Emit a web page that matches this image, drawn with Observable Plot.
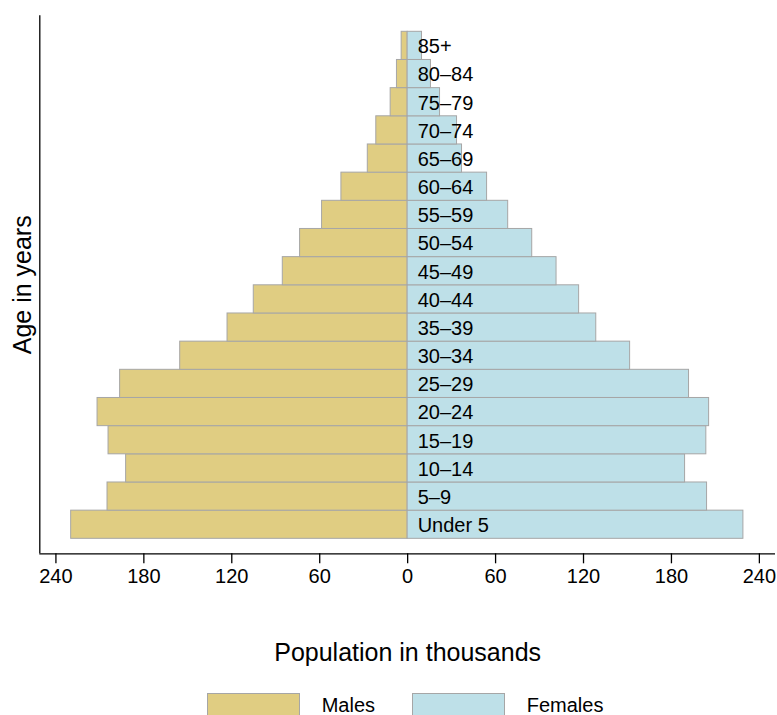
<!DOCTYPE html>
<html>
<head>
<meta charset="utf-8">
<script src="https://cdn.jsdelivr.net/npm/d3@7"></script>
<script src="https://cdn.jsdelivr.net/npm/@observablehq/plot@0.6"></script>
<style>
  html, body { margin: 0; padding: 0; background: white; }
  body { font-family: "Liberation Sans", Arial, sans-serif; }
  #chart { width: 777px; }
  #legend { position: relative; width: 777px; height: 22px; margin-top: 12.7px; font-size: 20px; color: black; }
  .swatch { position: absolute; top: 0; width: 93px; height: 27px; border: 1px solid #a6a6a6; box-sizing: border-box; }
  .lab { position: absolute; top: 2px; line-height: 20px; }
</style>
</head>
<body>
<div id="chart"></div>
<div id="legend"></div>
<script>
const ageGroups = ["Under 5", "5–9", "10–14", "15–19", "20–24", "25–29", "30–34", "35–39", "40–44",
  "45–49", "50–54", "55–59", "60–64", "65–69", "70–74", "75–79", "80–84", "85+"];
const males = [229.6, 204.8, 192.1, 204.1, 211.6, 196.2, 155.2, 122.9, 105.0,
  85.2, 73.4, 58.4, 45.2, 27.2, 21.4, 11.6, 7.3, 4.1];
const females = [229.1, 204.3, 189.3, 203.8, 205.7, 192.0, 151.8, 128.7, 117.0,
  101.6, 85.0, 68.6, 54.2, 37.1, 33.7, 22.1, 15.9, 9.8];
const xTicks = [-240, -180, -120, -60, 0, 60, 120, 180, 240];
const seriesNames = ["Males", "Females"];
const seriesColors = ["#e0cd82", "#bee0e8"];
const xTitle = "Population in thousands";
const yTitle = "Age in years";

const rows = ageGroups.map((g, i) => ({group: g, i, male: males[i], female: females[i]}));
const xMax = 251;
const yLo = -1.032, yHi = 18.068;

const plot = Plot.plot({
  width: 777,
  height: 680,
  marginLeft: 39.3,
  marginRight: 2,
  marginTop: 15.3,
  marginBottom: 126.7,
  style: {fontFamily: "'Liberation Sans', Arial, sans-serif", fontSize: "20px", background: "white", color: "black"},
  x: {domain: [-xMax, xMax]},
  y: {domain: [yLo, yHi], axis: null},
  marks: [
    Plot.rectX(rows, {x1: 0, x2: d => -d.male, y1: d => d.i - 0.5, y2: d => d.i + 0.5,
      fill: seriesColors[0], stroke: "#a6a6a6", strokeWidth: 1}),
    Plot.rectX(rows, {x1: 0, x2: d => d.female, y1: d => d.i - 0.5, y2: d => d.i + 0.5,
      fill: seriesColors[1], stroke: "#a6a6a6", strokeWidth: 1}),
    Plot.text(rows, {x: 0, y: "i", text: "group", dx: 10, dy: 1, textAnchor: "start", fontSize: 20, fill: "black"}),
    Plot.ruleX([-xMax], {stroke: "black", strokeWidth: 1.3}),
    Plot.ruleY([yLo], {stroke: "black", strokeWidth: 1.3}),
    Plot.axisX({ticks: xTicks, tickFormat: d => Math.abs(d), tickSize: 10, tickPadding: 5,
      fontSize: 20, label: null, stroke: "black", strokeWidth: 1.3}),
    Plot.text([xTitle], {text: d => d, frameAnchor: "bottom", lineAnchor: "middle", textAnchor: "middle",
      dy: 98.7, fontSize: 25, fill: "black"}),
    Plot.text([yTitle], {text: d => d, frameAnchor: "left", lineAnchor: "middle", textAnchor: "middle",
      rotate: -90, dx: -17, fontSize: 25, fill: "black"})
  ]
});
document.getElementById("chart").append(plot);

const legend = document.getElementById("legend");
const swatchLeft = [206.7, 411.7];
const labelLeft = [321.7, 526.7];
seriesNames.forEach((name, k) => {
  const sw = document.createElement("div");
  sw.className = "swatch";
  sw.style.left = swatchLeft[k] + "px";
  sw.style.background = seriesColors[k];
  const lb = document.createElement("div");
  lb.className = "lab";
  lb.style.left = labelLeft[k] + "px";
  lb.textContent = name;
  legend.append(sw, lb);
});
</script>
</body>
</html>
